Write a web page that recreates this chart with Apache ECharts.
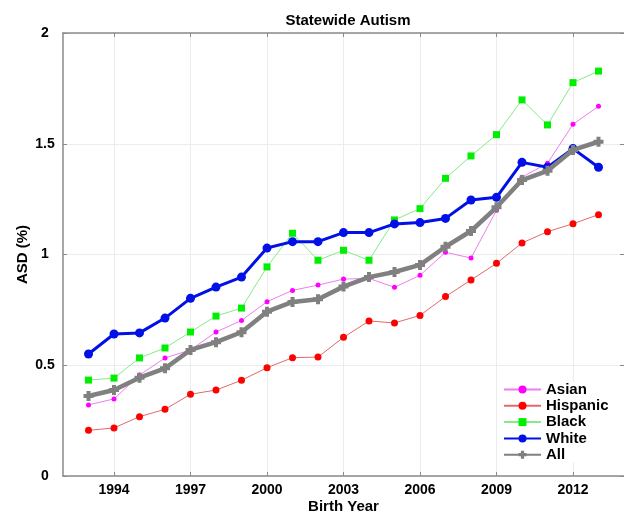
<!DOCTYPE html>
<html>
<head>
<meta charset="utf-8">
<script src="https://cdn.jsdelivr.net/npm/echarts@6/dist/echarts.min.js"></script>
<style>
  html, body { margin: 0; padding: 0; background: #fff; }
  #chart { width: 624px; height: 513px; }
</style>
</head>
<body>
<div id="chart"></div>
<script>
// Birth years and ASD prevalence (%) by group
var years = [1993, 1994, 1995, 1996, 1997, 1998, 1999, 2000, 2001, 2002, 2003,
             2004, 2005, 2006, 2007, 2008, 2009, 2010, 2011, 2012, 2013];

var asian    = [0.321, 0.348, 0.456, 0.533, 0.569, 0.650, 0.702, 0.787, 0.838, 0.862, 0.889,
                0.892, 0.852, 0.906, 1.010, 0.984, 1.200, 1.349, 1.412, 1.588, 1.669];
var hispanic = [0.206, 0.217, 0.268, 0.301, 0.369, 0.388, 0.432, 0.489, 0.534, 0.537, 0.626,
                0.700, 0.691, 0.725, 0.810, 0.885, 0.960, 1.052, 1.103, 1.139, 1.180];
var black    = [0.433, 0.442, 0.533, 0.578, 0.650, 0.722, 0.758, 0.944, 1.096, 0.974, 1.019,
                0.974, 1.156, 1.207, 1.344, 1.445, 1.541, 1.698, 1.585, 1.776, 1.828];
var white    = [0.551, 0.641, 0.646, 0.713, 0.802, 0.853, 0.898, 1.029, 1.058, 1.058, 1.099,
                1.099, 1.138, 1.144, 1.163, 1.246, 1.258, 1.416, 1.394, 1.478, 1.394];
var all      = [0.361, 0.388, 0.444, 0.486, 0.569, 0.604, 0.649, 0.742, 0.786, 0.798, 0.855,
                0.898, 0.921, 0.953, 1.035, 1.106, 1.213, 1.336, 1.378, 1.472, 1.509];

var xTicks = [1994, 1997, 2000, 2003, 2006, 2009, 2012];

function pairs(vals) {
  return years.map(function (y, i) { return [y, vals[i]]; });
}

var FONT = '"Liberation Sans", Arial, Helvetica, sans-serif';
var AXIS_COLOR = '#8a8a8a';
var GRID_COLOR = '#ececec';
var plusPath = 'path://M3,0h4v3h3v4h-3v3h-4v-3h-3v-4h3z';

function lineSeries(name, vals, lineColor, markColor, width, symbol, size, z) {
  return {
    name: name,
    type: 'line',
    data: pairs(vals),
    xAxisIndex: 0,
    yAxisIndex: 0,
    symbol: symbol,
    symbolSize: size,
    showAllSymbol: true,
    z: z,
    lineStyle: { color: lineColor, width: width },
    itemStyle: { color: markColor, borderColor: markColor, borderWidth: 0 },
    emphasis: { disabled: true },
    animation: false
  };
}

var chart = echarts.init(document.getElementById('chart'), null, { renderer: 'canvas' });

var tickCommon = { show: true, inside: true, length: 4, lineStyle: { color: AXIS_COLOR, width: 1 } };

chart.setOption({
  backgroundColor: '#ffffff',
  animation: false,
  title: {
    text: 'Statewide Autism',
    left: 343,
    textAlign: 'center',
    top: 8,
    textStyle: { fontFamily: FONT, fontWeight: 'bold', fontSize: 15, color: '#000' }
  },
  grid: { left: 63, right: 0, top: 33, bottom: 37, containLabel: false, outerBoundsMode: 'none' },
  legend: {
    orient: 'vertical',
    left: 503,
    top: 382,
    padding: 0,
    itemWidth: 37,
    itemHeight: 10,
    itemGap: 1.3,
    backgroundColor: '#ffffff',
    textStyle: { fontFamily: FONT, fontWeight: 'bold', fontSize: 15, color: '#000', lineHeight: 12, padding: [0, 0, 0, 0] },
    data: ['Asian', 'Hispanic', 'Black', 'White', 'All']
  },
  xAxis: [
    {
      type: 'value',
      position: 'bottom',
      min: 1992,
      max: 2014,
      name: 'Birth Year',
      nameLocation: 'middle',
      nameGap: 23,
      nameMoveOverlap: false,
      nameTextStyle: { fontFamily: FONT, fontWeight: 'bold', fontSize: 15, color: '#000' },
      axisLine: { show: true, onZero: false, lineStyle: { color: AXIS_COLOR, width: 1.5 } },
      axisTick: Object.assign({ customValues: xTicks }, tickCommon),
      axisLabel: {
        customValues: xTicks,
        margin: 7,
        fontFamily: FONT, fontWeight: 'bold', fontSize: 14, color: '#000',
        formatter: function (v) { return String(v); }
      },
      splitLine: { show: true, lineStyle: { color: GRID_COLOR, width: 1 } }
    },
    {
      type: 'value',
      position: 'top',
      min: 1992,
      max: 2014,
      axisLine: { show: true, onZero: false, lineStyle: { color: AXIS_COLOR, width: 1.5 } },
      axisTick: Object.assign({ customValues: xTicks }, tickCommon),
      axisLabel: { show: false, customValues: xTicks },
      splitLine: { show: false }
    }
  ],
  yAxis: [
    {
      type: 'value',
      position: 'left',
      min: 0,
      max: 2,
      interval: 0.5,
      name: 'ASD (%)',
      nameLocation: 'middle',
      nameGap: 33,
      nameMoveOverlap: false,
      nameTextStyle: { fontFamily: FONT, fontWeight: 'bold', fontSize: 15, color: '#000' },
      axisLine: { show: true, onZero: false, lineStyle: { color: AXIS_COLOR, width: 1.5 } },
      axisTick: tickCommon,
      axisLabel: {
        margin: 18,
        align: 'center',
        fontFamily: FONT, fontWeight: 'bold', fontSize: 14, color: '#000'
      },
      splitLine: { show: true, lineStyle: { color: GRID_COLOR, width: 1 } }
    },
    {
      type: 'value',
      position: 'right',
      min: 0,
      max: 2,
      interval: 0.5,
      axisLine: { show: false },
      axisTick: tickCommon,
      axisLabel: { show: false },
      splitLine: { show: false }
    }
  ],
  series: [
    lineSeries('Asian', asian, '#f07df0', '#ff00ff', 1, 'circle', 5, 2),
    lineSeries('Hispanic', hispanic, '#e06a6a', '#ff0000', 1, 'circle', 7, 3),
    lineSeries('Black', black, '#85ec85', '#00ee00', 1, 'rect', 7, 4),
    lineSeries('White', white, '#0010e6', '#0010e6', 3, 'circle', 9, 5),
    lineSeries('All', all, '#808080', '#808080', 4.5, plusPath, 10, 6)
  ]
});
</script>
</body>
</html>
